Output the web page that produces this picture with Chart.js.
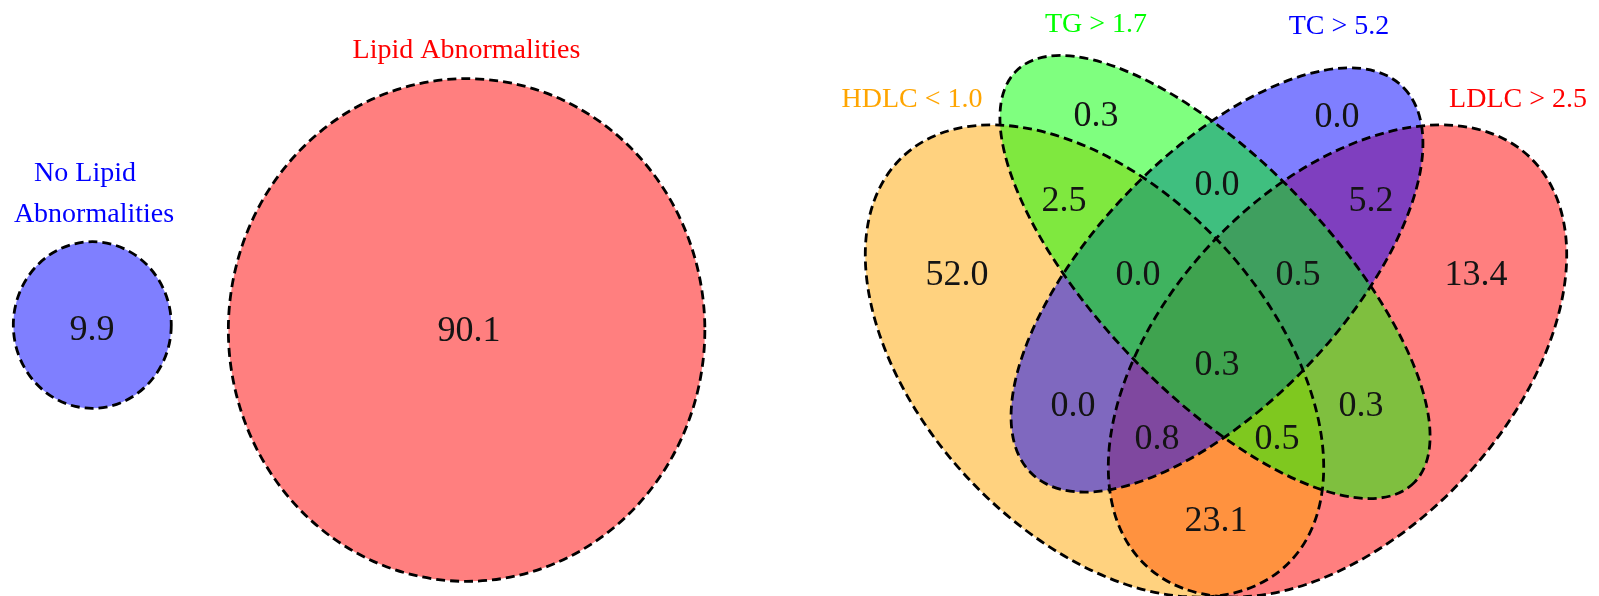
<!DOCTYPE html>
<html>
<head>
<meta charset="utf-8">
<script src="https://cdn.jsdelivr.net/npm/chart.js@4.4.1/dist/chart.umd.min.js"></script>
<style>
  html, body { margin: 0; padding: 0; background: #ffffff; }
  #wrap { width: 1599px; height: 596px; }
</style>
</head>
<body>
<div id="wrap"><canvas id="venn" width="1599" height="596"></canvas></div>
<script>
// ---- Data -------------------------------------------------------------
// Share of participants with and without any lipid abnormality (%)
const groupNames = ['No Lipid Abnormalities', 'Lipid Abnormalities'];
const groupShares = [9.9, 90.1];

// The four lipid criteria (H = HDLC, G = TG, C = TC, L = LDLC)
const setKeys = ['H', 'G', 'C', 'L'];
const setNames = ['HDLC < 1.0', 'TG > 1.7', 'TC > 5.2', 'LDLC > 2.5'];

// Venn regions: the criteria each region belongs to, and its share (%)
const regionSets = ['H', 'G', 'C', 'L', 'HG', 'GC', 'CL', 'HGC', 'GCL', 'HGCL', 'HC', 'GL', 'HCL', 'HGL', 'HL'];
const regionShares = [52.0, 0.3, 0.0, 13.4, 2.5, 0.0, 5.2, 0.0, 0.5, 0.3, 0.0, 0.3, 0.8, 0.5, 23.1];

// ---- Layout (grid units, y pointing up) -------------------------------
const gridW = 15.99, gridH = 5.96;
const areaScale = 0.251;                 // circle radius = areaScale * sqrt(share)
const groupStretch = 1.055;              // vertical stretch of the two-group panel
const groupCentres = [[0.923, 2.71], [4.666, 2.66]];
const groupValuePos = [[0.92, 2.68], [4.69, 2.67]];
const groupLabelLines = [['No Lipid', 'Abnormalities'], ['Lipid Abnormalities']];
const groupLabelPos = [[[0.85, 4.25], [0.94, 3.84]], [[4.665, 5.48]]];

// ellipse: centre x, centre y, semi-major, semi-minor, rotation (deg, anticlockwise)
const setStretch = 1.03;                 // vertical stretch of the four-set panel
const setShapes = {
  H: [10.945, 2.35, 2.76, 1.70, -45],
  G: [12.15, 3.19, 2.82, 1.14, -45],
  C: [12.17, 3.16, 2.64, 1.23, 45],
  L: [13.375, 2.35, 2.76, 1.70, 45]
};
const setDrawOrder = ['L', 'H', 'C', 'G'];
const setLabelPos = { H: [9.12, 4.99], G: [10.96, 5.74], C: [13.39, 5.72], L: [15.18, 4.99] };
const regionPos = {
  H: [9.57, 3.23], G: [10.96, 4.82], C: [13.37, 4.81], L: [14.76, 3.23],
  HG: [10.64, 3.97], GC: [12.17, 4.13], CL: [13.71, 3.97],
  HGC: [11.38, 3.23], GCL: [12.98, 3.23], HGCL: [12.17, 2.33],
  HC: [10.73, 1.92], GL: [13.61, 1.92], HCL: [11.57, 1.59], HGL: [12.77, 1.59],
  HL: [12.16, 0.77]
};

// ---- Styles -----------------------------------------------------------
const groupFill = ['rgba(0,0,255,0.5)', 'rgba(255,0,0,0.5)'];
const groupText = ['#0000ff', '#ff0000'];
const setFill = { H: 'rgba(255,165,0,0.5)', G: 'rgba(0,255,0,0.5)', C: 'rgba(0,0,255,0.5)', L: 'rgba(255,0,0,0.5)' };
const setText = { H: '#ffa500', G: '#00ff00', C: '#0000ff', L: '#ff0000' };
const serif = "'Liberation Serif', 'Times New Roman', Times, serif";
const numberSize = 36, nameSize = 28, groupNameSize = 28;

// ---- Datasets ---------------------------------------------------------
const datasets = [];

groupNames.forEach((name, i) => {
  const r = areaScale * Math.sqrt(groupShares[i]);
  datasets.push({
    label: name, kind: 'shape',
    data: [{ x: groupCentres[i][0], y: groupCentres[i][1] }],
    semiX: r, semiY: r, rotation: 0, stretch: groupStretch, fillColor: groupFill[i]
  });
  datasets.push({
    label: name + ' value', kind: 'text', size: numberSize, color: '#141414',
    data: [{ x: groupValuePos[i][0], y: groupValuePos[i][1] }],
    texts: [groupShares[i].toFixed(1)]
  });
  datasets.push({
    label: name + ' name', kind: 'text', size: groupNameSize, color: groupText[i],
    data: groupLabelPos[i].map(p => ({ x: p[0], y: p[1] })),
    texts: groupLabelLines[i]
  });
});

setDrawOrder.forEach(k => {
  const s = setShapes[k];
  datasets.push({
    label: setNames[setKeys.indexOf(k)], kind: 'shape',
    data: [{ x: s[0], y: s[1] }],
    semiX: s[2], semiY: s[3], rotation: s[4], stretch: setStretch, fillColor: setFill[k]
  });
});

setKeys.forEach((k, i) => {
  datasets.push({
    label: setNames[i] + ' name', kind: 'text', size: nameSize, color: setText[k],
    data: [{ x: setLabelPos[k][0], y: setLabelPos[k][1] }],
    texts: [setNames[i]]
  });
});

datasets.push({
  label: 'regions', kind: 'text', size: numberSize, color: '#141414',
  data: regionSets.map(r => ({ x: regionPos[r][0], y: regionPos[r][1] })),
  texts: regionShares.map(v => v.toFixed(1))
});

// ---- Drawing ----------------------------------------------------------
const vennPlugin = {
  id: 'vennDraw',
  afterDatasetsDraw(chart) {
    const { ctx, scales } = chart;
    const ux = Math.abs(scales.x.getPixelForValue(1) - scales.x.getPixelForValue(0));
    const uy = Math.abs(scales.y.getPixelForValue(1) - scales.y.getPixelForValue(0));
    const shapes = [];
    chart.data.datasets.forEach((ds, i) => {
      if (ds.kind === 'shape') {
        const el = chart.getDatasetMeta(i).data[0];
        shapes.push({ ds, x: el.x, y: el.y });
      }
    });
    const trace = s => {
      ctx.save();
      ctx.translate(s.x, s.y);
      ctx.scale(ux, uy * s.ds.stretch);
      ctx.rotate(-s.ds.rotation * Math.PI / 180);
      ctx.beginPath();
      ctx.ellipse(0, 0, s.ds.semiX, s.ds.semiY, 0, 0, Math.PI * 2);
      ctx.restore();
    };
    ctx.save();
    shapes.forEach(s => { trace(s); ctx.fillStyle = s.ds.fillColor; ctx.fill(); });
    ctx.setLineDash([9, 5]);
    ctx.lineWidth = 2.8;
    ctx.strokeStyle = '#000000';
    shapes.forEach(s => { trace(s); ctx.stroke(); });
    ctx.setLineDash([]);
    ctx.textAlign = 'center';
    ctx.textBaseline = 'alphabetic';
    chart.data.datasets.forEach((ds, i) => {
      if (ds.kind !== 'text') return;
      ctx.font = ds.size + 'px ' + serif;
      ctx.fillStyle = ds.color;
      chart.getDatasetMeta(i).data.forEach((el, j) => {
        ctx.fillText(ds.texts[j], el.x, el.y + 0.34 * ds.size);
      });
    });
    ctx.restore();
  }
};

new Chart(document.getElementById('venn'), {
  type: 'scatter',
  data: { datasets },
  options: {
    responsive: false,
    animation: false,
    layout: { padding: 0 },
    elements: { point: { radius: 0, hoverRadius: 0 } },
    scales: {
      x: { type: 'linear', min: 0, max: gridW, display: false },
      y: { type: 'linear', min: 0, max: gridH, display: false }
    },
    plugins: { legend: { display: false }, tooltip: { enabled: false } },
    events: []
  },
  plugins: [vennPlugin]
});
</script>
</body>
</html>
